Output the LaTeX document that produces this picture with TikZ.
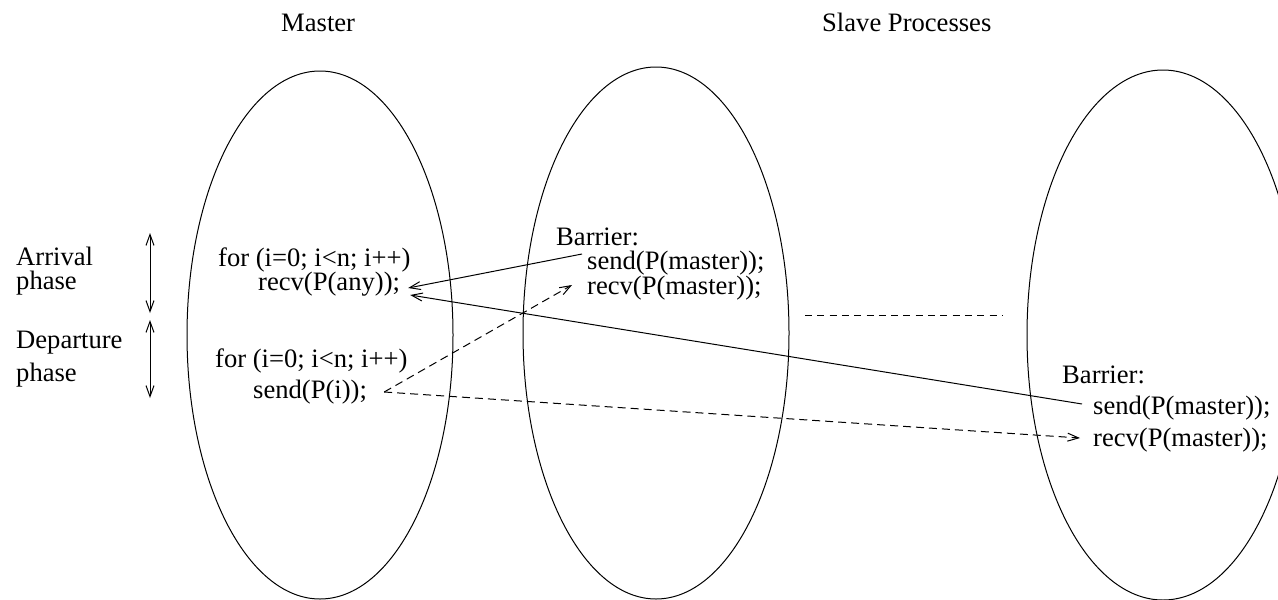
\documentclass[tikz,border=0pt]{standalone}
\usepackage{fontspec}
\setmainfont{Liberation Serif}
\usetikzlibrary{arrows.meta,calc,shapes.geometric}
\begin{document}
\begin{tikzpicture}[x=1pt,y=-1pt,
  txt/.style={anchor=base west,inner sep=0pt,font=\fontsize{26.6}{30}\selectfont},
  proc/.style={draw,ellipse,line width=1pt,inner sep=0pt},
  barb/.style={line width=1pt,-{Straight Barb[length=11pt,width=8pt,line width=1pt]}},
  dbarb/.style={line width=1pt,{Straight Barb[length=11pt,width=8pt,line width=1pt]}-{Straight Barb[length=11pt,width=8pt,line width=1pt]}},
  dashconn/.style={barb,dash pattern=on 8pt off 5pt},
  dotsline/.style={line width=1pt,dash pattern=on 7pt off 5.3pt}
]
\useasboundingbox (0,0) rectangle (1278,600);

% process ellipses
\node[proc,minimum width=266pt,minimum height=528pt] (e1) at (320,335) {};
\node[proc,minimum width=266pt,minimum height=532pt] (e2) at (656,333) {};
\node[proc,minimum width=272pt,minimum height=530pt] (e3) at (1163,335) {};

% titles
\node[txt] (tmaster) at (281,31) {Master};
\node[txt] (tslave) at (822,31) {Slave Processes};

% phase labels
\node[txt] (arr1) at (16,265) {Arrival};
\node[txt] (arr2) at (16,289) {phase};
\node[txt] (dep1) at (16,348) {Departure};
\node[txt] (dep2) at (16,381) {phase};

\coordinate (a1) at (150,233);
\coordinate (a2) at (150,313);
\coordinate (d1) at (150,320);
\coordinate (d2) at (150,398);
\draw[dbarb] (a1) -- (a2);
\draw[dbarb] (d1) -- (d2);

% master code
\node[txt] (mfor1) at (218,266) {for (i=0; i<n; i++)};
\node[txt] (mrecv) at (258,290) {recv(P(any));};
\node[txt] (mfor2) at (215,367) {for (i=0; i<n; i++)};
\node[txt] (msend) at (253,398) {send(P(i));};

% slave 1 code
\node[txt] (b1) at (556,245) {Barrier:};
\node[txt] (s1send) at (587,269) {send(P(master));};
\node[txt] (s1recv) at (587,294) {recv(P(master));};

% slave n code
\node[txt] (b3) at (1062,383) {Barrier:};
\node[txt] (s3send) at (1093,414) {send(P(master));};
\node[txt] (s3recv) at (1093,446) {recv(P(master));};

% dashed separator between slaves
\coordinate (sep1) at (805,315);
\coordinate (sep2) at (1002,315);
\draw[dotsline] (sep1) -- (sep2);

% messages
\draw[barb] ($(s1send.base west)+(-5,-15)$) -- ($(mrecv.base east)+(8,-2)$);
\draw[barb] ($(s3send.base west)+(-11,-10)$) -- ($(mrecv.base east)+(10,5)$);
\draw[dashconn] ($(msend.base east)+(17,-6)$) -- ($(s1recv.base west)+(-15,-9)$);
\draw[dashconn] ($(msend.base east)+(17,-6)$) -- ($(s3recv.base west)+(-13,-8)$);
\end{tikzpicture}
\end{document}
